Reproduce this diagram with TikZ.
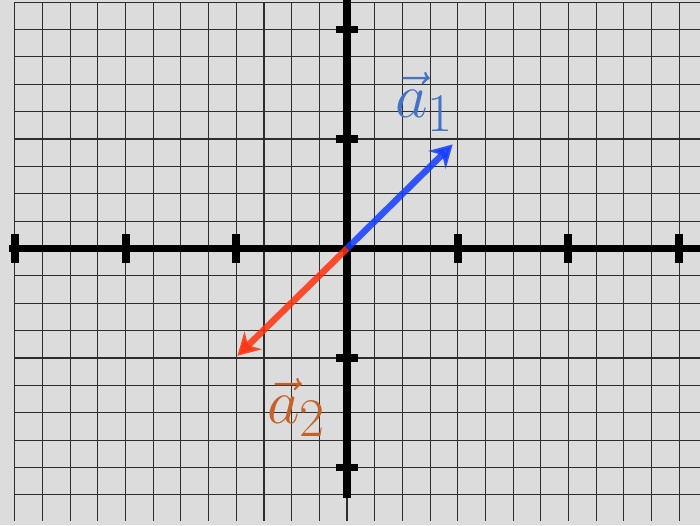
\RequirePackage{fix-cm}
\documentclass[tikz,border=0pt]{standalone}
\usepackage{tikz}
\usetikzlibrary{arrows.meta}
\usepackage{xcolor}
\definecolor{paper}{RGB}{220,220,220}
\definecolor{gridgray}{RGB}{45,45,45}
\definecolor{vecblue}{RGB}{18,61,255}
\definecolor{vecred}{RGB}{255,49,14}
\definecolor{labelblue}{RGB}{68,114,196}
\definecolor{labelorange}{RGB}{196,98,40}
\DeclareMathSizes{36}{36}{31}{24}
\tikzset{
  gridline/.style = {draw=gridgray, line width=0.6pt},
  axisline/.style = {draw=black, line width=4.5pt},
  tickmark/.style = {draw=black, line width=4.5pt},
  vecarr/.style   = {-{Stealth[length=12.5pt, width=14pt, inset=4pt]},
                     line width=3.7pt, opacity=0.85},
  veclabel/.style = {inner sep=0pt, anchor=base west,
                     font=\fontsize{36}{40}\selectfont},
}

\begin{document}
\begin{tikzpicture}[x=2.214cm, y=2.19cm]
  % Background
  \fill[paper] (-3.1346,-2.5251) rectangle (3.1888,2.2694);
  \useasboundingbox (-3.1346,-2.5251) rectangle (3.1888,2.2694);
  \clip (-3.1346,-2.5251) rectangle (3.1888,2.2694);

  % Grid
  \foreach \i in {-12,...,13}
    \draw[gridline] (\i/4,-2.489) -- (\i/4,2.25);
  \foreach \j in {-9,...,9}
    \draw[gridline] (-3,\j/4) -- (3.3,\j/4);

  % Axes
  \coordinate (O) at (0,0);
  \draw[axisline] (-3.053,0) -- (3.3,0);
  \draw[axisline] (0,2.3) -- (0,-2.276);

  % Ticks
  \foreach \tx in {-3,-2,-1,1,2,3}
    \draw[tickmark] (\tx,-0.1324) -- (\tx,0.1324);
  \foreach \ty in {-2,-1,1,2}
    \draw[tickmark] (-0.0994,\ty) -- (0.0994,\ty);

  % Vectors
  \coordinate (aone) at (0.955,0.951);
  \coordinate (atwo) at (-0.99,-0.98);
  \draw[vecarr, vecblue] (O) -- (aone);
  \draw[vecarr, vecred] (O) -- (atwo);

  % Labels
  \node[veclabel, text=labelblue] (laone) at (0.434,1.192) {$\vec{a}_1$};
  \node[veclabel, text=labelorange] (latwo) at (-0.723,-1.594) {$\vec{a}_2$};
\end{tikzpicture}
\end{document}
